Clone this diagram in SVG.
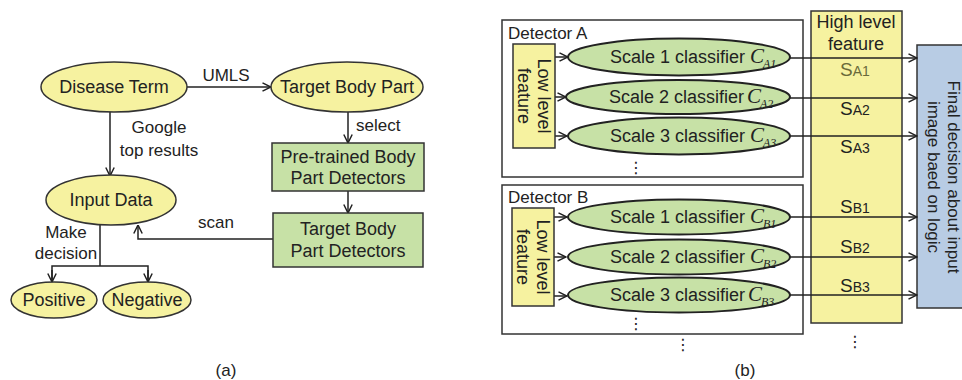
<svg xmlns="http://www.w3.org/2000/svg" width="962" height="380" viewBox="0 0 962 380">
<style>
text{font-family:"Liberation Sans",Arial,sans-serif;fill:#222;}
.t18{font-size:18px;}
.t17{font-size:17px;}
.mid{text-anchor:middle;}
.yel{fill:#f6f2a0;stroke:#333;stroke-width:1.5;}
.grn{fill:#c7e1a6;stroke:#333;stroke-width:1.5;}
.grnE{fill:#c7e1a6;stroke:#222;stroke-width:2;}
.blu{fill:#b8cce4;stroke:#333;stroke-width:1.5;}
.wht{fill:#fff;stroke:#333;stroke-width:1.5;}
.ln{fill:none;stroke:#222;stroke-width:1.5;}
.ci{font-family:"Liberation Serif","Times New Roman",serif;font-style:italic;font-size:21px;}
.cs{font-family:"Liberation Serif","Times New Roman",serif;font-style:italic;font-size:12px;}
.sS{font-size:19px;}
.sSub{font-size:14px;}
.dots{font-family:"DejaVu Sans",sans-serif;font-size:16px;text-anchor:middle;}
</style>
<defs>
<marker id="arr" viewBox="0 0 10 10" refX="9.5" refY="5" markerWidth="10" markerHeight="10" markerUnits="userSpaceOnUse" orient="auto">
<path d="M1,0.8 L9.5,5 L1,9.2" fill="none" stroke="#222" stroke-width="1.5"/>
</marker>
</defs>
<rect width="962" height="380" fill="#fff"/>

<g id="b-detA-box"><rect class="wht" x="502" y="20" width="301" height="157"/><text class="t17" x="508" y="39">Detector A</text></g>
<g id="b-detB-box"><rect class="wht" x="502" y="185" width="301" height="149"/><text class="t17" x="508" y="203">Detector B</text></g>
<g id="b-high"><rect class="yel" x="811" y="11" width="91" height="312"/>
<text class="t18 mid" x="856" y="28">High level</text><text class="t18 mid" x="856" y="50">feature</text></g>
<g id="b-final"><rect class="blu" x="917" y="45" width="60" height="263"/>
<g transform="translate(938,177) rotate(90)"><text class="t17 mid" x="0" y="-10">Final decision about input</text><text class="t17 mid" x="0" y="10">image baed on logic</text></g></g>

<g id="connectors">
<line class="ln" x1="187" y1="87" x2="271" y2="87" marker-end="url(#arr)"/>
<line class="ln" x1="110" y1="112" x2="110" y2="176" marker-end="url(#arr)"/>
<line class="ln" x1="348" y1="112" x2="348" y2="143" marker-end="url(#arr)"/>
<line class="ln" x1="348" y1="191" x2="348" y2="213" marker-end="url(#arr)"/>
<polyline class="ln" points="273,239 138,239 138,225" marker-end="url(#arr)"/>
<polyline class="ln" points="100,225 100,266"/>
<polyline class="ln" points="52,282 52,266 148,266 148,282"/>
<line class="ln" x1="52" y1="270" x2="52" y2="282" marker-end="url(#arr)"/>
<line class="ln" x1="148" y1="270" x2="148" y2="282" marker-end="url(#arr)"/>
<line class="ln" x1="555" y1="57" x2="568" y2="57" marker-end="url(#arr)"/>
<line class="ln" x1="555" y1="97" x2="566" y2="97" marker-end="url(#arr)"/>
<line class="ln" x1="555" y1="136" x2="567" y2="136" marker-end="url(#arr)"/>
<line class="ln" x1="554" y1="217" x2="567" y2="217" marker-end="url(#arr)"/>
<line class="ln" x1="554" y1="257" x2="566" y2="257" marker-end="url(#arr)"/>
<line class="ln" x1="554" y1="296" x2="567" y2="296" marker-end="url(#arr)"/>
<line class="ln" x1="790" y1="58" x2="917" y2="58" marker-end="url(#arr)"/>
<line class="ln" x1="790" y1="98" x2="917" y2="98" marker-end="url(#arr)"/>
<line class="ln" x1="790" y1="136" x2="917" y2="136" marker-end="url(#arr)"/>
<line class="ln" x1="790" y1="217" x2="917" y2="217" marker-end="url(#arr)"/>
<line class="ln" x1="790" y1="257" x2="917" y2="257" marker-end="url(#arr)"/>
<line class="ln" x1="790" y1="295" x2="917" y2="295" marker-end="url(#arr)"/>
</g>

<g id="connector-labels">
<text class="t17 mid" x="226" y="81">UMLS</text>
<text class="t17 mid" x="159" y="133">Google</text>
<text class="t17 mid" x="159" y="156">top results</text>
<text class="t17" x="356" y="131">select</text>
<text class="t17 mid" x="216" y="228">scan</text>
<text class="t17 mid" x="66" y="238">Make</text>
<text class="t17 mid" x="66" y="259">decision</text>
<text x="840" y="76" style="fill:#6a6a3a"><tspan class="sS" style="fill:#6a6a3a">S</tspan><tspan class="sSub" style="fill:#6a6a3a">A1</tspan></text>
<text x="840" y="115"><tspan class="sS">S</tspan><tspan class="sSub">A2</tspan></text>
<text x="840" y="153"><tspan class="sS">S</tspan><tspan class="sSub">A3</tspan></text>
<text x="840" y="213"><tspan class="sS">S</tspan><tspan class="sSub">B1</tspan></text>
<text x="840" y="253"><tspan class="sS">S</tspan><tspan class="sSub">B2</tspan></text>
<text x="840" y="292"><tspan class="sS">S</tspan><tspan class="sSub">B3</tspan></text>
</g>

<g id="a-disease"><ellipse class="yel" cx="114" cy="87" rx="73" ry="25"/><text class="t18 mid" x="114" y="93">Disease Term</text></g>
<g id="a-target"><ellipse class="yel" cx="347" cy="87" rx="76" ry="25"/><text class="t18 mid" x="347" y="93">Target Body Part</text></g>
<g id="a-pretrained"><rect class="grn" x="272" y="143" width="152" height="48"/><text class="t18 mid" x="348" y="163">Pre-trained Body</text><text class="t18 mid" x="348" y="184">Part Detectors</text></g>
<g id="a-tbpd"><rect class="grn" x="273" y="213" width="150" height="54"/><text class="t18 mid" x="348" y="235">Target Body</text><text class="t18 mid" x="348" y="257">Part Detectors</text></g>
<g id="a-input"><ellipse class="yel" cx="111" cy="200" rx="65" ry="25"/><text class="t18 mid" x="111" y="206">Input Data</text></g>
<g id="a-positive"><ellipse class="yel" cx="54" cy="300" rx="43" ry="18"/><text class="t18 mid" x="54" y="306">Positive</text></g>
<g id="a-negative"><ellipse class="yel" cx="147" cy="300" rx="44" ry="18"/><text class="t18 mid" x="147" y="306">Negative</text></g>
<text class="t17 mid" x="226" y="376">(a)</text>

<g id="b-lowA"><rect class="yel" x="513" y="44" width="42" height="104"/>
<g transform="translate(534,96) rotate(90)"><text class="t18 mid" x="0" y="-4">Low level</text><text class="t18 mid" x="0" y="16">feature</text></g></g>
<g id="b-lowB"><rect class="yel" x="512" y="208" width="42" height="98"/>
<g transform="translate(533,257) rotate(90)"><text class="t18 mid" x="0" y="-4">Low level</text><text class="t18 mid" x="0" y="16">feature</text></g></g>

<g id="b-cA1"><ellipse class="grnE" cx="679" cy="57" rx="111" ry="18.5"/><text class="t18" x="610" y="63">Scale 1 classifier</text><text class="ci" x="750" y="63">C</text><text class="cs" x="763" y="68">A1</text></g>
<g id="b-cA2"><ellipse class="grnE" cx="678" cy="97" rx="112" ry="17"/><text class="t18" x="609" y="103">Scale 2 classifier</text><text class="ci" x="747" y="103">C</text><text class="cs" x="760" y="108">A2</text></g>
<g id="b-cA3"><ellipse class="grnE" cx="679" cy="136" rx="111" ry="18.5"/><text class="t18" x="610" y="142">Scale 3 classifier</text><text class="ci" x="750" y="142">C</text><text class="cs" x="763" y="147">A3</text></g>
<g id="b-cB1"><ellipse class="grnE" cx="679" cy="217" rx="111" ry="17.5"/><text class="t18" x="610" y="223">Scale 1 classifier</text><text class="ci" x="750" y="223">C</text><text class="cs" x="763" y="228">B1</text></g>
<g id="b-cB2"><ellipse class="grnE" cx="679" cy="257" rx="111" ry="17.5"/><text class="t18" x="610" y="263">Scale 2 classifier</text><text class="ci" x="750" y="263">C</text><text class="cs" x="763" y="268">B2</text></g>
<g id="b-cB3"><ellipse class="grnE" cx="679" cy="295" rx="111" ry="17.5"/><text class="t18" x="610" y="301">Scale 3 classifier</text><text class="ci" x="748" y="301">C</text><text class="cs" x="761" y="306">B3</text></g>

<g id="b-dots">
<text class="dots" x="636" y="173">⋮</text>
<text class="dots" x="636" y="329">⋮</text>
<text class="dots" x="683" y="350">⋮</text>
<text class="dots" x="855" y="347">⋮</text>
</g>
<text class="t17 mid" x="745" y="376">(b)</text>
</svg>
